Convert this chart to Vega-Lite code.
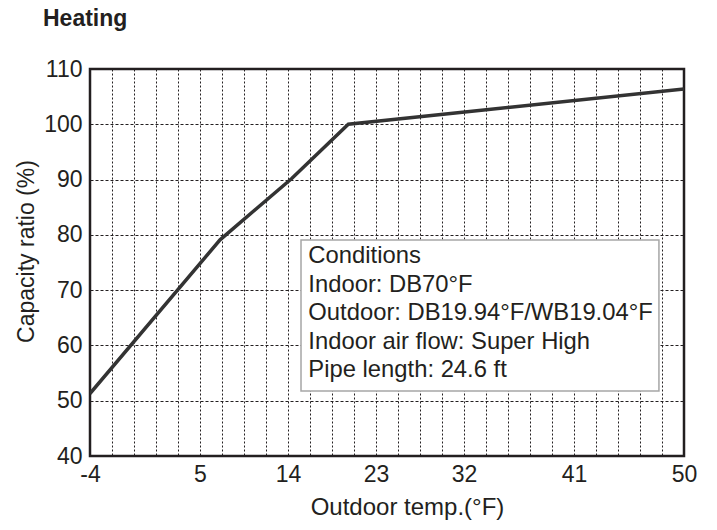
{
  "$schema": "https://vega.github.io/schema/vega-lite/v6.json",
  "width": 594,
  "height": 387,
  "autosize": "none",
  "padding": {"left": 90, "top": 69, "right": 33, "bottom": 74},
  "background": "white",
  "title": {
    "text": "Heating",
    "anchor": "start",
    "frame": "group",
    "dx": -47,
    "offset": 9,
    "baseline": "alphabetic",
    "fontSize": 23,
    "fontWeight": "bold",
    "color": "#231f20",
    "font": "Liberation Sans"
  },
  "datasets": {
    "curve": [
      {"t": -4, "r": 51.3},
      {"t": 7.05, "r": 79.1},
      {"t": 14.38, "r": 90.2},
      {"t": 20.17, "r": 100},
      {"t": 50, "r": 106.4}
    ],
    "box": [
      {"t1": 15.33, "t2": 47.95, "r1": 51.76, "r2": 79.07}
    ],
    "notes": [
      {"t": 16.08, "r": 74.86, "label": "Conditions"},
      {"t": 16.08, "r": 69.7, "label": "Indoor: DB70°F"},
      {"t": 16.08, "r": 64.54, "label": "Outdoor: DB19.94°F/WB19.04°F"},
      {"t": 16.08, "r": 59.39, "label": "Indoor air flow: Super High"},
      {"t": 16.08, "r": 54.23, "label": "Pipe length: 24.6 ft"}
    ]
  },
  "encoding": {
    "x": {
      "field": "t",
      "type": "quantitative",
      "scale": {"domain": [-4, 5, 14, 23, 32, 41, 50], "range": [0, 110, 198, 286, 374, 484, 594], "nice": false, "zero": false},
      "axis": {
        "title": "Outdoor temp.(°F)",
        "values": [-4, -2.2, -0.4, 1.4, 3.2, 5, 7.25, 9.5, 11.75, 14, 16.25, 18.5, 20.75, 23, 25.25, 27.5, 29.75, 32, 33.8, 35.6, 37.4, 39.2, 41, 42.8, 44.6, 46.4, 48.2, 50],
        "labelExpr": "indexof([-4, 5, 14, 23, 32, 41, 50], datum.value) >= 0 ? (datum.value < 0 ? '-' + abs(datum.value) : datum.label) : ''",
        "labelOverlap": false,
        "labelFlush": false,
        "labelPadding": 7,
        "grid": true,
        "gridDash": [2, 2],
        "gridColor": "#231f20",
        "gridWidth": 1,
        "titleX": 317,
        "titleY": 58,
        "titleBaseline": "alphabetic",
        "titleAlign": "center",
        "titleFontSize": 24
      }
    },
    "y": {
      "field": "r",
      "type": "quantitative",
      "scale": {"domain": [40, 110], "nice": false, "zero": false},
      "axis": {
        "title": "Capacity ratio (%)",
        "values": [40, 50, 60, 70, 80, 90, 100, 110],
        "labelPadding": 8,
        "grid": true,
        "gridDash": [3, 2],
        "gridColor": "#231f20",
        "gridWidth": 1,
        "titleX": -75,
        "titleY": 182,
        "titleAlign": "center",
        "titleBaseline": "top",
        "titleAngle": -90
      }
    }
  },
  "layer": [
    {
      "data": {"name": "curve"},
      "mark": {"type": "line", "color": "#333333", "strokeWidth": 3.5, "strokeJoin": "miter", "clip": true}
    },
    {
      "data": {"name": "box"},
      "mark": {"type": "rect", "fill": "white", "stroke": "#a6a6a6", "strokeWidth": 1.5},
      "encoding": {
        "x": {"field": "t1", "type": "quantitative"},
        "x2": {"field": "t2"},
        "y": {"field": "r1", "type": "quantitative"},
        "y2": {"field": "r2"}
      }
    },
    {
      "data": {"name": "notes"},
      "mark": {"type": "text", "align": "left", "baseline": "alphabetic", "fontSize": 23.8, "color": "#231f20", "font": "Liberation Sans"},
      "encoding": {
        "text": {"field": "label", "type": "nominal"}
      }
    }
  ],
  "config": {
    "font": "Liberation Sans",
    "view": {"stroke": "#231f20", "strokeWidth": 2.5},
    "axis": {
      "domain": false,
      "ticks": false,
      "tickSize": 0,
      "labelFontSize": 23,
      "labelColor": "#231f20",
      "labelFont": "Liberation Sans",
      "titleFontSize": 23,
      "titleFontWeight": "normal",
      "titleColor": "#231f20",
      "titleFont": "Liberation Sans"
    }
  }
}
